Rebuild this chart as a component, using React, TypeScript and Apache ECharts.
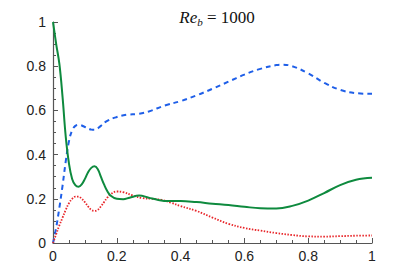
import React, { useEffect, useRef } from "react";
import * as echarts from "echarts";

const greenX = [0, 0.01, 0.02, 0.03, 0.04, 0.05, 0.06, 0.07, 0.08, 0.09, 0.1, 0.11, 0.12, 0.13, 0.14, 0.15, 0.16, 0.17, 0.18, 0.2, 0.22, 0.24, 0.27, 0.3, 0.33, 0.36, 0.4, 0.45, 0.5, 0.55, 0.6, 0.65, 0.7, 0.75, 0.8, 0.85, 0.9, 0.95, 1.0];
const greenY = [1.0, 0.9, 0.81, 0.66, 0.48, 0.36, 0.29, 0.262, 0.255, 0.265, 0.29, 0.32, 0.34, 0.347, 0.335, 0.3, 0.265, 0.235, 0.215, 0.2, 0.198, 0.205, 0.215, 0.205, 0.195, 0.19, 0.19, 0.185, 0.178, 0.172, 0.164, 0.157, 0.156, 0.168, 0.192, 0.226, 0.262, 0.286, 0.295];

const blueX = [0, 0.01, 0.02, 0.03, 0.04, 0.05, 0.06, 0.07, 0.08, 0.1, 0.12, 0.13, 0.15, 0.17, 0.2, 0.23, 0.27, 0.3, 0.35, 0.4, 0.45, 0.5, 0.55, 0.6, 0.65, 0.7, 0.72, 0.75, 0.8, 0.85, 0.9, 0.95, 1.0];
const blueY = [0, 0.07, 0.16, 0.26, 0.37, 0.46, 0.51, 0.53, 0.535, 0.525, 0.513, 0.512, 0.53, 0.553, 0.57, 0.58, 0.585, 0.595, 0.622, 0.642, 0.668, 0.698, 0.73, 0.762, 0.788, 0.805, 0.807, 0.8, 0.768, 0.725, 0.693, 0.678, 0.675];

const redX = [0, 0.01, 0.02, 0.03, 0.04, 0.05, 0.06, 0.07, 0.08, 0.09, 0.1, 0.11, 0.12, 0.13, 0.14, 0.15, 0.16, 0.17, 0.18, 0.2, 0.22, 0.25, 0.28, 0.31, 0.34, 0.37, 0.4, 0.45, 0.5, 0.55, 0.6, 0.65, 0.7, 0.75, 0.8, 0.85, 0.9, 0.95, 1.0];
const redY = [0, 0.04, 0.08, 0.115, 0.15, 0.18, 0.2, 0.21, 0.21, 0.2, 0.185, 0.165, 0.15, 0.145, 0.15, 0.165, 0.185, 0.205, 0.22, 0.233, 0.23, 0.215, 0.203, 0.2, 0.195, 0.182, 0.167, 0.145, 0.115, 0.087, 0.068, 0.056, 0.045, 0.036, 0.03, 0.029, 0.031, 0.033, 0.034];

const xTicks = [0, 0.2, 0.4, 0.6, 0.8, 1];
const yTicks = [0, 0.2, 0.4, 0.6, 0.8, 1];

const zip = (xs: number[], ys: number[]) => xs.map((x, i) => [x, ys[i]]);

const fmt = (v: number) => {
  const s = v.toFixed(1);
  return s === "0.0" ? "0" : s === "1.0" ? "1" : s;
};

export default function App() {
  const ref = useRef<HTMLDivElement>(null);
  useEffect(() => {
    const chart = echarts.init(ref.current!, null, { renderer: "svg" });
    const axisCommon = {
      type: "value" as const,
      min: xTicks[0],
      max: xTicks[xTicks.length - 1],
      interval: 0.2,
      axisLine: { show: true, lineStyle: { color: "#555", width: 1.2 } },
      axisTick: { show: true, inside: true, length: 5, lineStyle: { color: "#555", width: 1 } },
      minorTick: { show: true, splitNumber: 4, length: 3, lineStyle: { color: "#555", width: 1 } },
      splitLine: { show: false },
      axisLabel: {
        color: "#222",
        fontFamily: "Liberation Sans, Arial, sans-serif",
        fontSize: 14,
        formatter: (v: number) => fmt(v),
      },
    };
    const serif = "Liberation Serif, Times New Roman, serif";
    chart.setOption({
      animation: false,
      title: {
        text: "{i|Re}{s|b}{n| = 1000}",
        left: 212,
        textAlign: "center",
        top: 2,
        textStyle: {
          fontWeight: "normal",
          rich: {
            i: { fontFamily: serif, fontStyle: "italic", fontWeight: "normal", fontSize: 17, color: "#111" },
            s: { fontFamily: serif, fontStyle: "italic", fontWeight: "normal", fontSize: 11, color: "#111", padding: [9, 0, 0, 0] },
            n: { fontFamily: serif, fontWeight: "normal", fontSize: 17, color: "#111" },
          },
        },
      },
      grid: { left: 53, right: 39, top: 22, bottom: 31, containLabel: false },
      xAxis: { ...axisCommon, axisLabel: { ...axisCommon.axisLabel, margin: 6 } },
      yAxis: { ...axisCommon, min: yTicks[0], max: yTicks[yTicks.length - 1], axisLabel: { ...axisCommon.axisLabel, margin: 7 } },
      series: [
        {
          type: "line",
          data: zip(blueX, blueY),
          smooth: 0.4,
          showSymbol: false,
          lineStyle: { color: "#1f5fe8", width: 2, type: [5, 4] },
          z: 2,
        },
        {
          type: "line",
          data: zip(redX, redY),
          smooth: 0.4,
          showSymbol: false,
          lineStyle: { color: "#e8262a", width: 1.8, type: [1.5, 1.5] },
          z: 3,
        },
        {
          type: "line",
          data: zip(greenX, greenY),
          smooth: 0.4,
          showSymbol: false,
          lineStyle: { color: "#0e8a3e", width: 2 },
          z: 4,
        },
      ],
    });
    return () => chart.dispose();
  }, []);
  return <div ref={ref} style={{ width: 411, height: 274, margin: -8 }} />;
}
